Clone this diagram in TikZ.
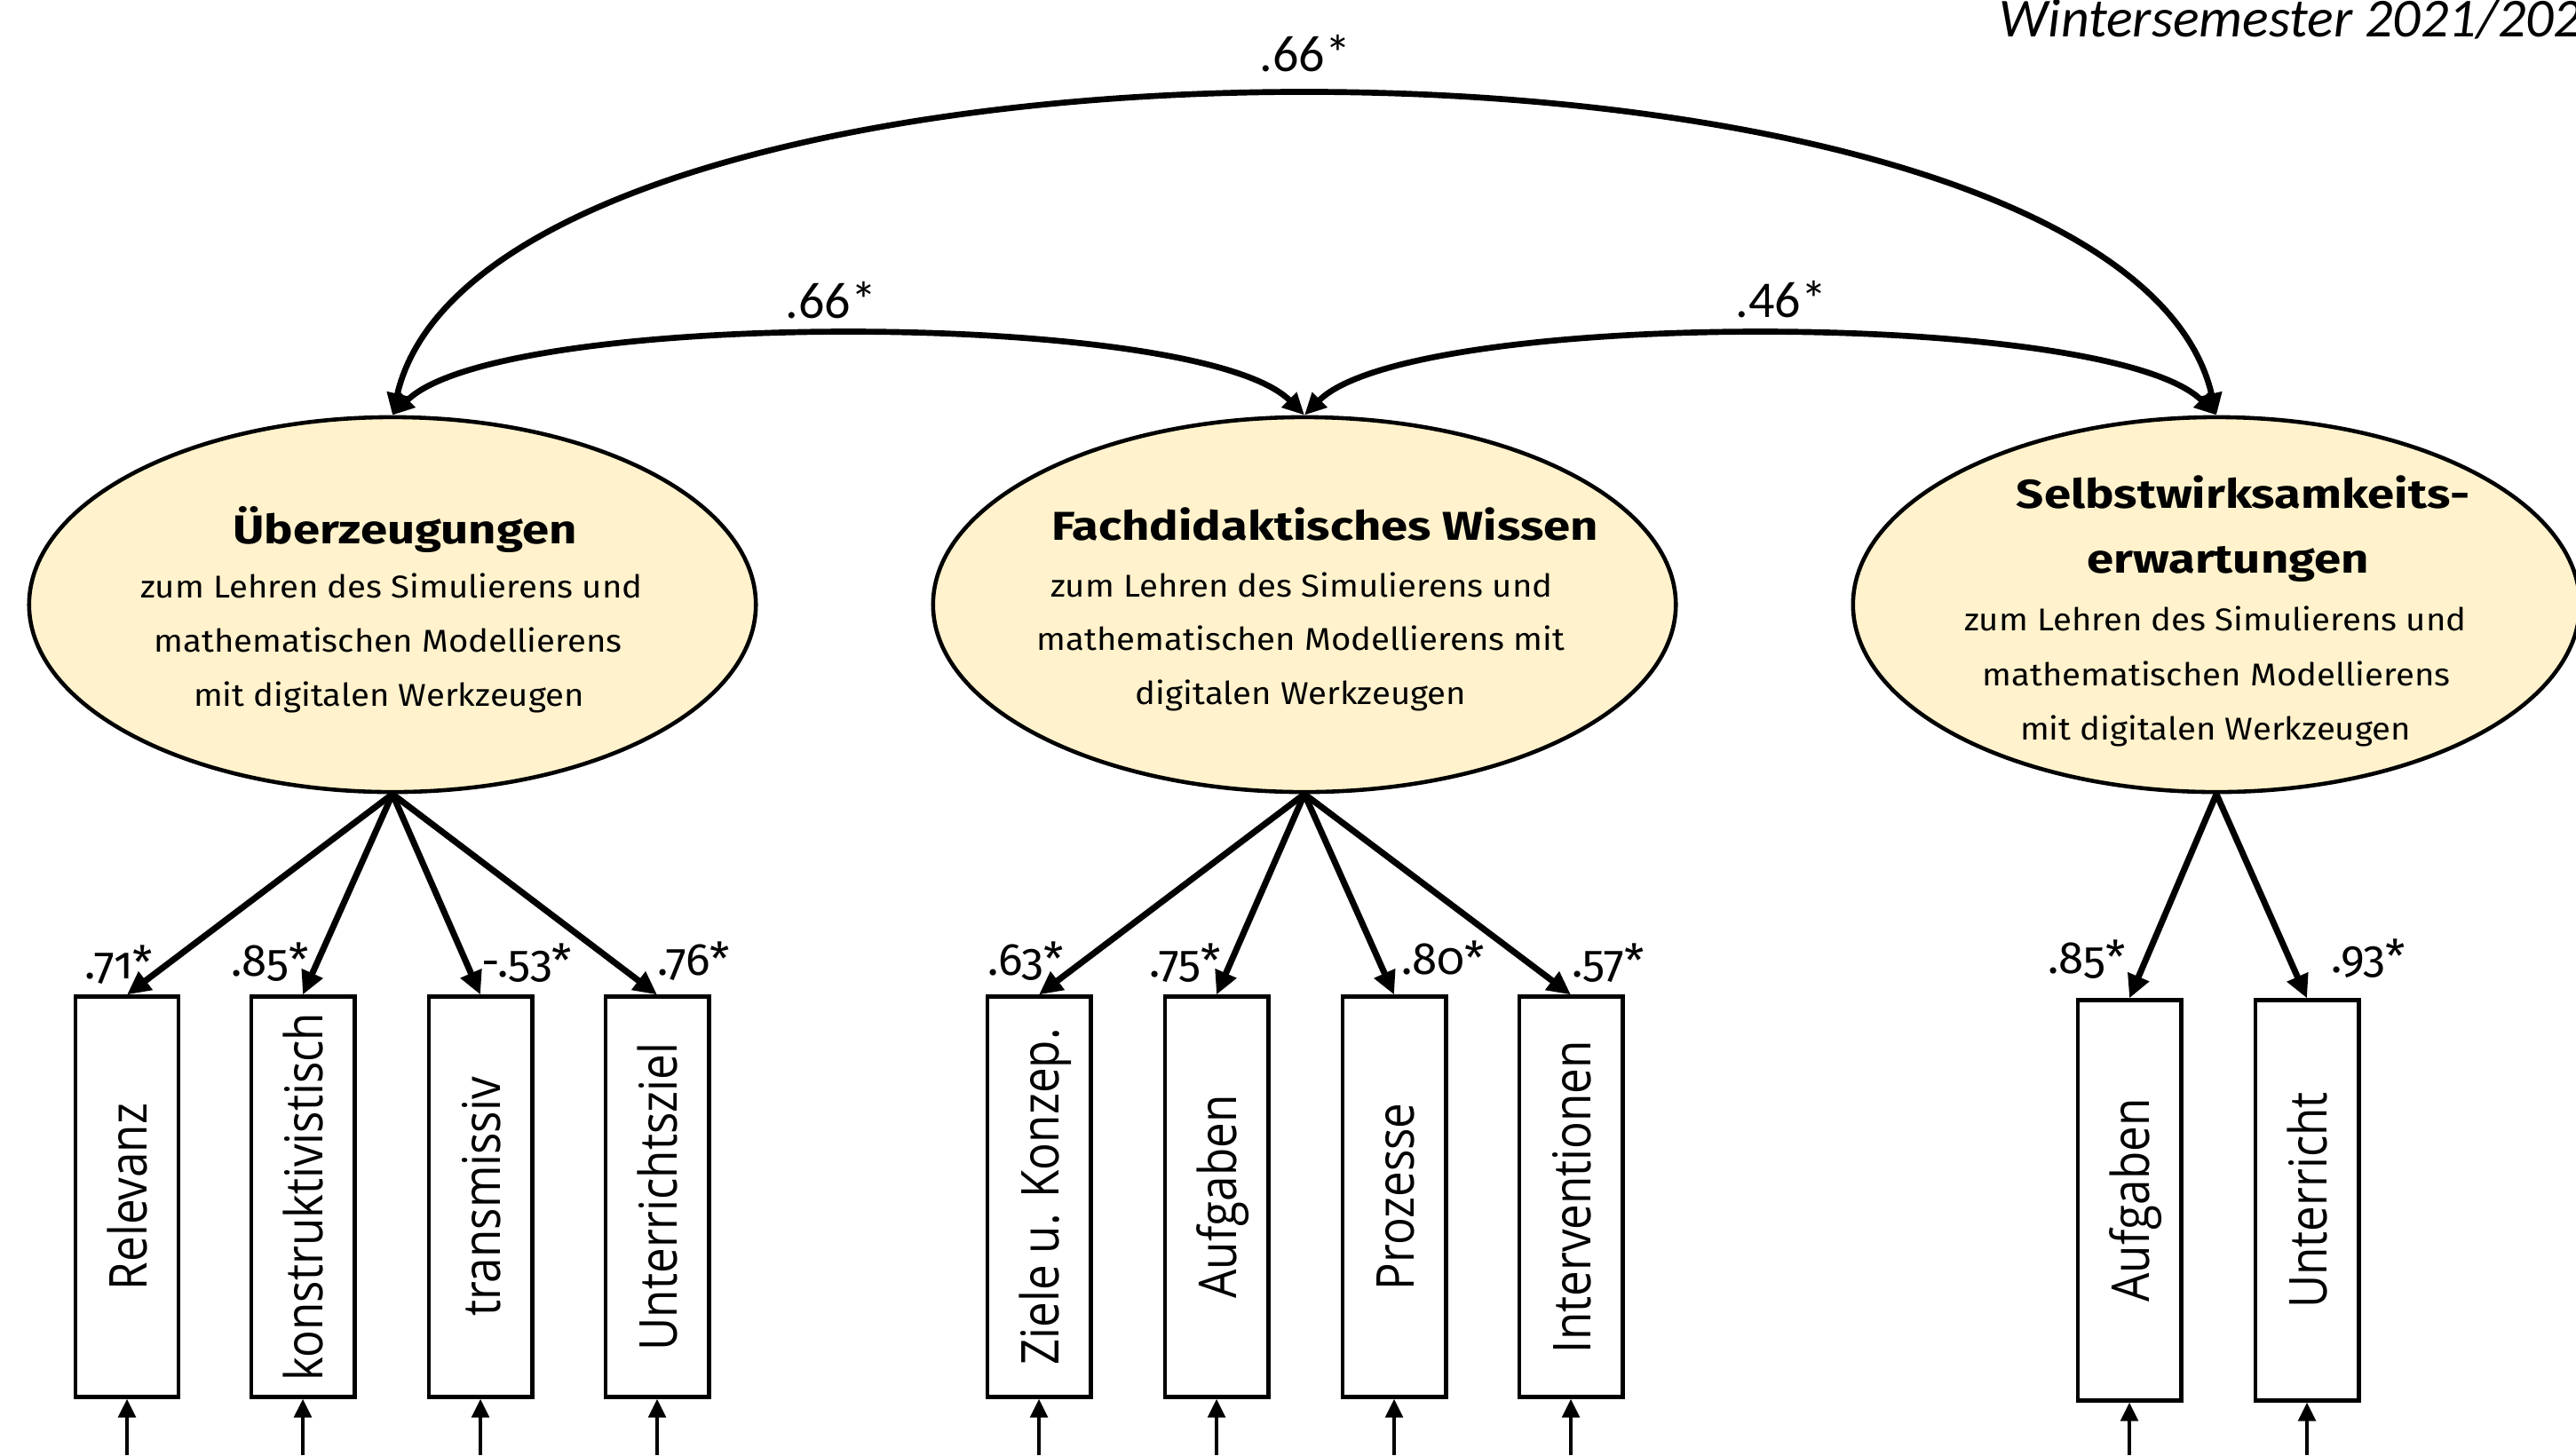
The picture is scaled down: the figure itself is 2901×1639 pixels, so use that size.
\documentclass[tikz,border=0pt]{standalone}
\usepackage{fontspec}
\setmainfont{Carlito}
\newfontfamily\elltitlefont[FakeStretch=1.2]{Fira Sans}
\newfontfamily\ellsubfont[FakeStretch=1.08]{Fira Sans}
\newfontfamily\boxfont[FakeStretch=0.87]{Open Sans}
\newfontfamily\loadfont[Numbers=OldStyle]{Fira Sans}
\newfontfamily\covfont{Carlito}
\usetikzlibrary{shapes.geometric,arrows.meta}
\definecolor{latentfill}{HTML}{FFF2CC}

\begin{document}
\begin{tikzpicture}[x=0.01cm,y=-0.01cm,
  latent/.style={ellipse, draw, line width=1.3pt, fill=latentfill, minimum width=8.18cm, minimum height=4.22cm, inner sep=0pt},
  indicator/.style={draw, line width=1.4pt, fill=white, minimum width=1.16cm, minimum height=4.5cm, inner sep=0pt},
  loading/.style={line width=2pt, -{Triangle[length=7.5pt,width=7pt]}},
  cov/.style={line width=1.9pt, {Triangle[length=7pt,width=6.5pt]}-{Triangle[length=7pt,width=6.5pt]}},
  err/.style={line width=1.3pt, -{Triangle[length=6pt,width=5.5pt]}},
  indlabel/.style={font=\boxfont\fontsize{16.7}{20}\selectfont, rotate=90, anchor=base, inner sep=0pt},
  etitle/.style={font=\elltitlefont\bfseries\fontsize{12.9}{15}\selectfont, anchor=base, inner sep=0pt},
  esub/.style={font=\ellsubfont\fontsize{10.1}{12}\selectfont, anchor=base, inner sep=0pt},
  loadlab/.style={font=\loadfont\fontsize{14.5}{18}\selectfont, anchor=base, inner sep=0pt},
  covlab/.style={font=\covfont\fontsize{16.5}{20}\selectfont, anchor=base, inner sep=0pt}
]
\useasboundingbox (0,0) rectangle (2901,1639);
\clip (0,0) rectangle (2901,1639);

% heading
\node[font=\itshape\fontsize{17.6}{21}\selectfont, anchor=base west, inner sep=0pt] (head) at (2251,41) {Wintersemester 2021/202};

% latent variables
\node[latent] (E1) at (442,681) {};
\node[latent, minimum width=8.36cm] (E2) at (1469,681) {};
\node[latent] (E3) at (2496,681) {};

\node[etitle] (E1t) at (456,612) {Überzeugungen};
\node[esub] (E1a) at (441,673) {zum Lehren des Simulierens und};
\node[esub] (E1b) at (437,734) {mathematischen Modellierens};
\node[esub] (E1c) at (438,795) {mit digitalen Werkzeugen};

\node[etitle] (E2t) at (1492,608) {Fachdidaktisches Wissen};
\node[esub] (E2a) at (1466,672) {zum Lehren des Simulierens und};
\node[esub] (E2b) at (1465,732) {mathematischen Modellierens mit};
\node[esub] (E2c) at (1465,793) {digitalen Werkzeugen};

\node[etitle] (E3t) at (2526,572) {Selbstwirksamkeits-};
\node[etitle] (E3u) at (2509,645) {erwartungen};
\node[esub] (E3a) at (2495,710) {zum Lehren des Simulierens und};
\node[esub] (E3b) at (2496,772) {mathematischen Modellierens};
\node[esub] (E3c) at (2495,833) {mit digitalen Werkzeugen};

% covariances
\draw[cov] (E1.north) .. controls +(110,-478) and +(-110,-478) .. (E3.north);
\draw[cov] (E1.north) .. controls +(120,-120) and +(-120,-120) .. (E2.north);
\draw[cov] (E2.north) .. controls +(120,-120) and +(-120,-120) .. (E3.north);
\node[covlab] (c13) at (1470,80) {.66*};
\node[covlab] (c12) at (936,358) {.66*};
\node[covlab] (c23) at (2006,357) {.46*};

% indicators
\node[indicator] (b11) at (143,1348) {};
\node[indicator] (b12) at (341,1348) {};
\node[indicator] (b13) at (541,1348) {};
\node[indicator] (b14) at (740,1348) {};
\node[indicator] (b21) at (1170,1348) {};
\node[indicator] (b22) at (1370,1348) {};
\node[indicator] (b23) at (1570,1348) {};
\node[indicator] (b24) at (1769,1348) {};
\node[indicator] (b31) at (2398,1352) {};
\node[indicator] (b32) at (2598,1352) {};

\node[indlabel] (t11) at (165,1348) {Relevanz};
\node[indlabel] (t12) at (363,1348) {konstruktivistisch};
\node[indlabel] (t13) at (563,1348) {transmissiv};
\node[indlabel] (t14) at (762,1348) {Unterrichtsziel};
\node[indlabel] (t21) at (1192,1348) {Ziele u. Konzep.};
\node[indlabel] (t22) at (1392,1348) {Aufgaben};
\node[indlabel] (t23) at (1592,1348) {Prozesse};
\node[indlabel] (t24) at (1791,1348) {Interventionen};
\node[indlabel] (t31) at (2420,1352) {Aufgaben};
\node[indlabel] (t32) at (2620,1352) {Unterricht};

% loadings
\foreach \b in {b11,b12,b13,b14} \draw[loading] (E1.south) -- (\b.north);
\foreach \b in {b21,b22,b23,b24} \draw[loading] (E2.south) -- (\b.north);
\foreach \b in {b31,b32} \draw[loading] (E3.south) -- (\b.north);

\node[loadlab] (l11) at (134,1102) {.71*};
\node[loadlab] (l12) at (304,1099) {.85*};
\node[loadlab] (l13) at (593,1100) {-.53*};
\node[loadlab] (l14) at (781,1098) {.76*};
\node[loadlab] (l21) at (1155,1098) {.63*};
\node[loadlab] (l22) at (1335,1100) {.75*};
\node[loadlab] (l23) at (1625,1097) {.80*};
\node[loadlab] (l24) at (1811,1100) {.57*};
\node[loadlab] (l31) at (2350,1096) {.85*};
\node[loadlab] (l32) at (2667,1095) {.93*};

% error terms
\foreach \b/\x in {b11/143,b12/341,b13/541,b14/740,b21/1170,b22/1370,b23/1570,b24/1769,b31/2398,b32/2598} {
  \coordinate (u\b) at (\x,1639);
  \draw[err] (u\b) -- (\b.south);
}
\end{tikzpicture}
\end{document}
